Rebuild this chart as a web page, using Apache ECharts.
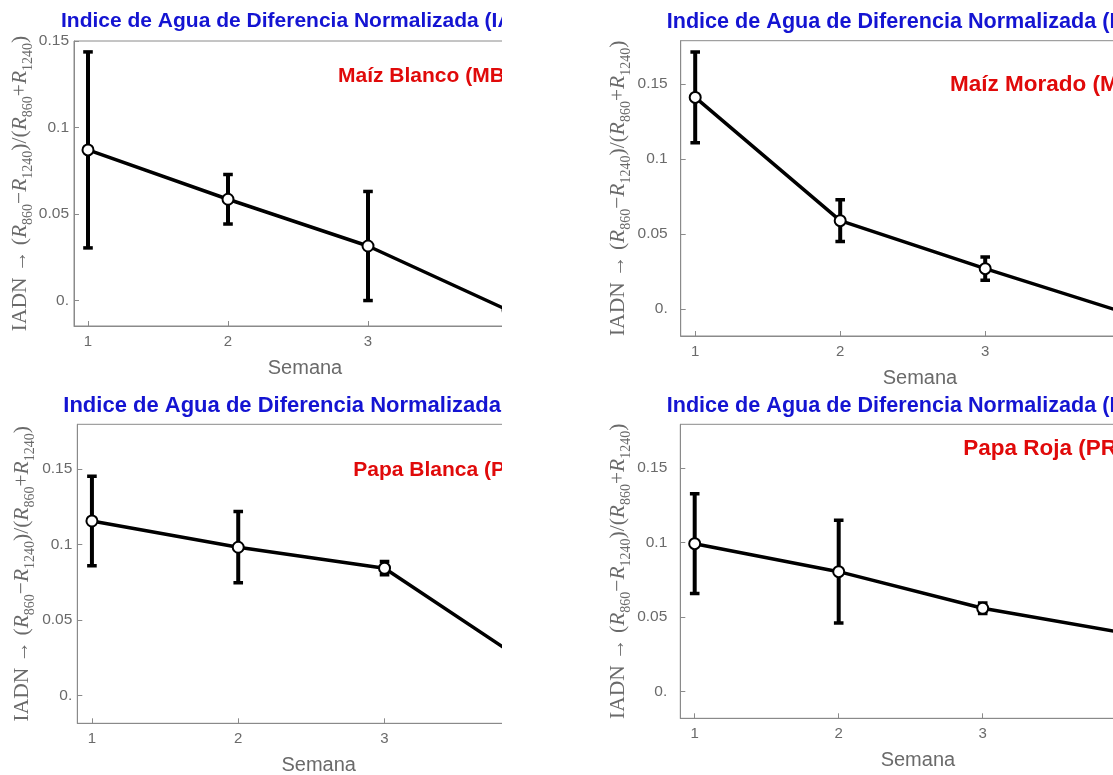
<!DOCTYPE html>
<html>
<head>
<meta charset="utf-8">
<script src="https://cdn.jsdelivr.net/npm/echarts@6/dist/echarts.min.js"></script>
<style>
html,body{margin:0;padding:0;background:#fff;}
#c{width:1113px;height:775px;}
</style>
</head>
<body>
<div id="c"></div>
<script>
// ---- data ----
const weeks = [1, 2, 3, 4];
const xTicks = [1, 2, 3, 4];
const yTicks = [0, 0.05, 0.1, 0.15];

const titleText = 'Indice de Agua de Diferencia Normalizada (IADN)';
const panelLabels = ['Maíz Blanco (MB)', 'Maíz Morado (MM)', 'Papa Blanca (PB)', 'Papa Roja (PR)'];

const mbMean = [0.0871, 0.0586, 0.0316, -0.0055];
const mbErr  = [0.0566, 0.0143, 0.0315, null];
const mmMean = [0.1411, 0.0589, 0.0269, -0.0036];
const mmErr  = [0.0303, 0.0139, 0.0078, null];
const pbMean = [0.1157, 0.0983, 0.0844, 0.0199];
const pbErr  = [0.0296, 0.0236, 0.0044, null];
const prMean = [0.0992, 0.0804, 0.0558, 0.0390];
const prErr  = [0.0335, 0.0345, 0.0035, null];

const means = [mbMean, mmMean, pbMean, prMean];
const errs = [mbErr, mmErr, pbErr, prErr];

// ---- layout ----
const grids = [
  {left: 74,    top: 41,    width: 462,   height: 285},
  {left: 680.7, top: 40.7,  width: 478.5, height: 295.3},
  {left: 77.3,  top: 424.3, width: 482.8, height: 299},
  {left: 680.3, top: 424.3, width: 475.2, height: 294}
];
const yRanges = [[-0.0146, 0.15], [-0.018, 0.1789], [-0.0183, 0.1797], [-0.0181, 0.1794]];
const yNameGap = [37, 40, 40, 39];
const yLabelMargin = [5, 13, 5, 13];
const titleSize = [21, 21.6, 22, 21.6];
const labelSize = [21, 22.5, 21, 22.5];
const tickFont = ['"Liberation Sans", Arial, sans-serif', '"Liberation Sans Narrow", "Liberation Sans", Arial, sans-serif',
                  '"Liberation Sans", Arial, sans-serif', '"Liberation Sans Narrow", "Liberation Sans", Arial, sans-serif'];
const titlePos = [[61, 9.2], [666.7, 9.2], [63.3, 393.2], [666.7, 393.2]];
const labelPos = [[338, 63.5], [950, 72.5], [353.3, 457.5], [963.3, 436.5]];

const GREY = '#6a6a6a';
const SANS = '"Liberation Sans", Arial, sans-serif';
const SERIF = '"Liberation Serif", "Times New Roman", serif';

const yName = '{t|IADN → (}{r|R}{s|860}{t|−}{r|R}{s|1240}{t|)/(}{r|R}{s|860}{t|+}{r|R}{s|1240}{t|)}';
const yRich = {
  t: {fontFamily: SERIF, fontSize: 21.5, color: GREY, lineHeight: 30, verticalAlign: 'middle'},
  r: {fontFamily: SERIF, fontSize: 21.5, fontStyle: 'italic', color: GREY, lineHeight: 30, verticalAlign: 'middle'},
  s: {fontFamily: SERIF, fontSize: 14, color: GREY, lineHeight: 30, verticalAlign: 'bottom'}
};

const option = {
  animation: false,
  backgroundColor: '#fff',
  title: [],
  grid: [],
  xAxis: [],
  yAxis: [],
  series: [],
  graphic: []
};

for (let i = 0; i < 4; i++) {
  option.grid.push(Object.assign({show: true, borderColor: '#8a8a8a', borderWidth: 1,
    backgroundColor: 'transparent', containLabel: false, outerBoundsMode: 'none'}, grids[i]));
  option.title.push({
    text: titleText, left: titlePos[i][0], top: titlePos[i][1], padding: 0,
    textStyle: {color: '#1414d2', fontFamily: SANS, fontWeight: 'bold', fontSize: titleSize[i], lineHeight: 25}
  });
  option.title.push({
    text: panelLabels[i], left: labelPos[i][0], top: labelPos[i][1], padding: 0,
    textStyle: {color: '#e00a0a', fontFamily: SANS, fontWeight: 'bold', fontSize: labelSize[i], lineHeight: 25}
  });
  option.xAxis.push({
    type: 'value', gridIndex: i, min: 0.9, max: 4.2,
    name: 'Semana', nameLocation: 'middle', nameGap: 32,
    nameTextStyle: {color: GREY, fontFamily: SANS, fontSize: 20},
    axisLine: {show: true, onZero: false, lineStyle: {color: '#8a8a8a', width: 1}},
    axisTick: {show: true, inside: true, length: 5, customValues: xTicks, lineStyle: {color: '#8a8a8a'}},
    axisLabel: {customValues: xTicks, color: GREY, fontFamily: SANS, fontSize: 15, margin: 8,
                formatter: v => String(v)},
    splitLine: {show: false}
  });
  option.yAxis.push({
    type: 'value', gridIndex: i, min: yRanges[i][0], max: yRanges[i][1],
    name: yName, nameLocation: 'middle', nameGap: yNameGap[i],
    nameTextStyle: {rich: yRich},
    axisLine: {show: true, onZero: false, lineStyle: {color: '#8a8a8a', width: 1}},
    axisTick: {show: true, inside: true, length: 5, customValues: yTicks, lineStyle: {color: '#8a8a8a'}},
    axisLabel: {customValues: yTicks, color: GREY, fontFamily: tickFont[i], fontSize: 15.5, margin: yLabelMargin[i],
                formatter: v => (v === 0 ? '0.' : String(+v.toFixed(2)))},
    splitLine: {show: false}
  });
  const barData = [];
  weeks.forEach((w, k) => {
    if (errs[i][k] != null) barData.push([w, means[i][k] - errs[i][k], means[i][k] + errs[i][k]]);
  });
  option.series.push({
    type: 'custom', xAxisIndex: i, yAxisIndex: i, z: 2, clip: true,
    data: barData,
    renderItem: function (params, api) {
      const lo = api.coord([api.value(0), api.value(1)]);
      const hi = api.coord([api.value(0), api.value(2)]);
      const hw = 4.8;
      return {
        type: 'group',
        children: [
          {type: 'line', shape: {x1: lo[0], y1: lo[1], x2: hi[0], y2: hi[1]}, style: {stroke: '#000', lineWidth: 4}},
          {type: 'line', shape: {x1: lo[0] - hw, y1: lo[1], x2: lo[0] + hw, y2: lo[1]}, style: {stroke: '#000', lineWidth: 3.5}},
          {type: 'line', shape: {x1: hi[0] - hw, y1: hi[1], x2: hi[0] + hw, y2: hi[1]}, style: {stroke: '#000', lineWidth: 3.5}}
        ]
      };
    }
  });
  option.series.push({
    type: 'line', xAxisIndex: i, yAxisIndex: i, z: 3, clip: true,
    data: weeks.map((w, k) => [w, means[i][k]]),
    symbol: 'circle', symbolSize: 11, showSymbol: true,
    lineStyle: {color: '#000', width: 3.5},
    itemStyle: {color: '#fff', borderColor: '#000', borderWidth: 2}
  });
}

// white band reproducing the crop between the left and right panels
option.graphic.push({
  type: 'rect', z: 1000, silent: true,
  shape: {x: 502, y: 0, width: 106, height: 775},
  style: {fill: '#fff'}
});

const chart = echarts.init(document.getElementById('c'), null, {renderer: 'canvas'});
chart.setOption(option);
</script>
</body>
</html>
